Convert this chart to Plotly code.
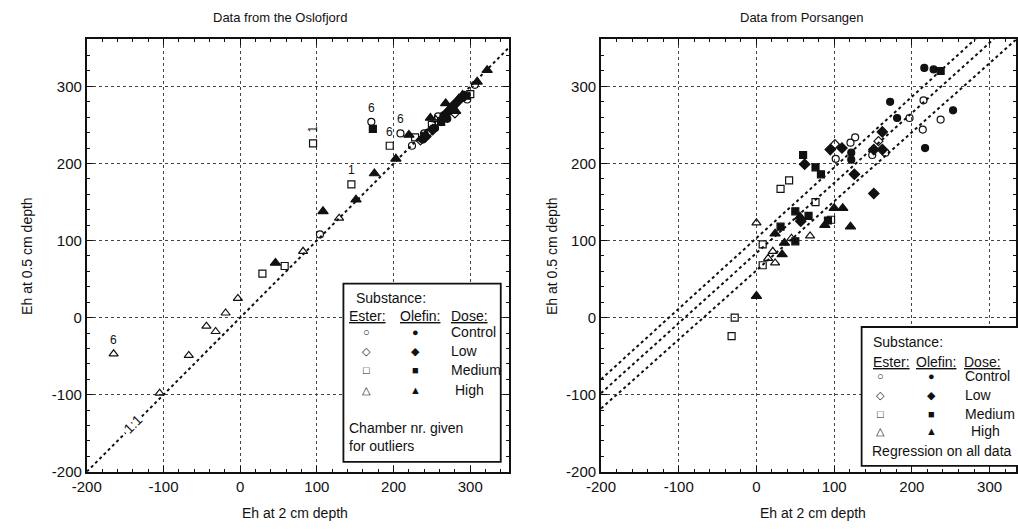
import plotly.graph_objects as go

W, H = 1018, 531

# ---------------- Data from the Oslofjord (Eh at 2 cm, Eh at 0.5 cm) ----------------
oslo_ester_control_x = [104, 171, 209, 224, 240, 245, 258, 296, 306]
oslo_ester_control_y = [108, 254, 239, 223, 239, 240, 261, 283, 302]
oslo_ester_low_x = [235, 262, 280]
oslo_ester_low_y = [230, 255, 265]
oslo_ester_medium_x = [29, 58, 95, 145, 195, 228, 250, 300]
oslo_ester_medium_y = [57, 67, 226, 173, 223, 234, 250, 290]
oslo_ester_high_x = [-165, -105, -67, -44, -32, -19, -3, 82, 129, 255]
oslo_ester_high_y = [-47, -98, -49, -11, -18, 6, 25, 86, 129, 257]
oslo_olefin_control_x = [238, 254, 265, 278, 290, 270]
oslo_olefin_control_y = [231, 246, 262, 275, 285, 258]
oslo_olefin_low_x = [251, 270, 283, 242]
oslo_olefin_low_y = [244, 266, 280, 235]
oslo_olefin_medium_x = [173, 240, 262, 275, 295]
oslo_olefin_medium_y = [245, 236, 254, 270, 288]
oslo_olefin_high_x = [46, 108, 151, 175, 203, 220, 248, 268, 274, 281, 285, 290, 309, 322]
oslo_olefin_high_y = [71, 138, 153, 187, 206, 237, 259, 278, 272, 268, 284, 289, 306, 321]

# outlier chamber numbers (text, x, y, rotation)
oslo_outlier_text = ["6", "1", "1", "6", "6", "6"]
oslo_outlier_x = [-165, 95, 145, 171, 195, 209]
oslo_outlier_y = [-47, 226, 173, 254, 223, 239]
oslo_outlier_rot = [0, -90, 0, 0, 0, 0]

one_to_one_x = [-200, 350]
one_to_one_y = [-200, 350]

# ---------------- Data from Porsangen ----------------
pors_ester_control_x = [215, 197, 237, 214, 166, 149, 127, 121, 102]
pors_ester_control_y = [282, 259, 257, 244, 214, 211, 234, 227, 206]
pors_ester_low_x = [157, 101]
pors_ester_low_y = [229, 225]
pors_ester_medium_x = [42, 31, 8, 8, 76, 96, -28, -32]
pors_ester_medium_y = [178, 167, 95, 68, 150, 127, 0, -24]
pors_ester_high_x = [0, 21, 15, 24, 45, 69]
pors_ester_high_y = [123, 86, 77, 71, 103, 106]
pors_olefin_control_x = [216, 228, 172, 253, 181, 217, 122, 122]
pors_olefin_control_y = [324, 322, 280, 269, 259, 220, 214, 205]
pors_olefin_low_x = [162, 151, 162, 126, 151, 95, 110, 62, 57]
pors_olefin_low_y = [241, 218, 218, 186, 161, 218, 220, 199, 125]
pors_olefin_medium_x = [237, 60, 76, 83, 31, 50, 50, 67, 92]
pors_olefin_medium_y = [320, 211, 195, 186, 118, 99, 138, 132, 126]
pors_olefin_high_x = [0, 24, 33, 36, 100, 111, 88, 121, 56]
pors_olefin_high_y = [28, 109, 82, 97, 142, 142, 120, 118, 131]

reg_x = [-200, 350]
reg_upper_y = [-80, 424]
reg_mid_y = [-98, 402]
reg_lower_y = [-118, 375]

ticks = [-200, -100, 0, 100, 200, 300]
tick_labels = ["-200", "-100", "0", "100", "200", "300"]

# ---------------- styles ----------------
INK = "#111111"
FONT = "Liberation Sans, Arial, sans-serif"
STYLE = {
    "ester_control": ("circle-open", 7),
    "ester_low": ("diamond-open", 7),
    "ester_medium": ("square-open", 7),
    "ester_high": ("triangle-up-open", 8),
    "olefin_control": ("circle", 7),
    "olefin_low": ("diamond", 8),
    "olefin_medium": ("square", 7),
    "olefin_high": ("triangle-up", 9),
}

oslo_sets = {
    "ester_control": (oslo_ester_control_x, oslo_ester_control_y),
    "ester_low": (oslo_ester_low_x, oslo_ester_low_y),
    "ester_medium": (oslo_ester_medium_x, oslo_ester_medium_y),
    "ester_high": (oslo_ester_high_x, oslo_ester_high_y),
    "olefin_control": (oslo_olefin_control_x, oslo_olefin_control_y),
    "olefin_low": (oslo_olefin_low_x, oslo_olefin_low_y),
    "olefin_medium": (oslo_olefin_medium_x, oslo_olefin_medium_y),
    "olefin_high": (oslo_olefin_high_x, oslo_olefin_high_y),
}
pors_sets = {
    "ester_control": (pors_ester_control_x, pors_ester_control_y),
    "ester_low": (pors_ester_low_x, pors_ester_low_y),
    "ester_medium": (pors_ester_medium_x, pors_ester_medium_y),
    "ester_high": (pors_ester_high_x, pors_ester_high_y),
    "olefin_control": (pors_olefin_control_x, pors_olefin_control_y),
    "olefin_low": (pors_olefin_low_x, pors_olefin_low_y),
    "olefin_medium": (pors_olefin_medium_x, pors_olefin_medium_y),
    "olefin_high": (pors_olefin_high_x, pors_olefin_high_y),
}

fig = go.Figure()

dotline = dict(color=INK, width=2, dash="dot")
fig.add_trace(go.Scatter(x=one_to_one_x, y=one_to_one_y, mode="lines", line=dotline,
                         xaxis="x", yaxis="y", showlegend=False, hoverinfo="skip"))
for ry in (reg_upper_y, reg_mid_y, reg_lower_y):
    fig.add_trace(go.Scatter(x=reg_x, y=ry, mode="lines", line=dotline,
                             xaxis="x2", yaxis="y2", showlegend=False, hoverinfo="skip"))


def add_sets(sets, xa, ya):
    for key, (xs, ys) in sets.items():
        sym, size = STYLE[key]
        fig.add_trace(go.Scatter(
            x=xs, y=ys, mode="markers", name=key, xaxis=xa, yaxis=ya, showlegend=False,
            marker=dict(symbol=sym, size=size, color=INK, line=dict(color=INK, width=1.2)),
        ))


add_sets(oslo_sets, "x", "y")
add_sets(pors_sets, "x2", "y2")


def px(x):
    return x / W


def py(y):
    return 1 - y / H


axis_common = dict(
    showline=True, linecolor=INK, linewidth=1.8, mirror="allticks",
    ticks="inside", ticklen=6, tickcolor=INK, tickwidth=1,
    tickvals=ticks, ticktext=tick_labels,
    tickfont=dict(family=FONT, size=15, color=INK),
    showgrid=True, gridcolor="#444444", gridwidth=1, griddash="dot",
    zeroline=False,
    minor=dict(dtick=20, ticklen=3, ticks="inside", tickcolor=INK, showgrid=False),
)

ydom = [py(479), py(40)]
fig.update_layout(
    width=W, height=H, margin=dict(l=0, r=0, t=0, b=0),
    paper_bgcolor="white", plot_bgcolor="white",
    xaxis=dict(domain=[px(73), px(502)], range=[-200, 350], anchor="y", **axis_common),
    yaxis=dict(domain=ydom, range=[-200, 361], anchor="x", **axis_common),
    xaxis2=dict(domain=[px(596), 1.0], range=[-200, 334], anchor="y2", **axis_common),
    yaxis2=dict(domain=ydom, range=[-200, 361], anchor="x2", **axis_common),
    font=dict(family=FONT, color=INK),
)

ann = []


def text(x, y, s, size=14, xanchor="center", angle=0, **kw):
    ann.append(dict(x=px(x), y=py(y), xref="paper", yref="paper", text=s, showarrow=False,
                    xanchor=xanchor, yanchor="middle", textangle=angle,
                    font=dict(family=FONT, size=size, color=INK), **kw))


# titles and axis titles
text(270, 18, "Data from the Oslofjord", 13)
text(800, 18, "Data from Porsangen", 13)
text(285, 521, "Eh at 2 cm depth", 14)
text(812, 521, "Eh at 2 cm depth", 14)
text(12, 260, "Eh at 0.5 cm depth", 14, angle=-90)
text(546, 260, "Eh at 0.5 cm depth", 14, angle=-90)

# outlier labels
for t, x, y, r in zip(oslo_outlier_text, oslo_outlier_x, oslo_outlier_y, oslo_outlier_rot):
    ann.append(dict(x=x, y=y, xref="x", yref="y", text=t, showarrow=False, yshift=14,
                    textangle=r, font=dict(family=FONT, size=12, color=INK)))

# 1:1 label
ann.append(dict(x=-140, y=-138, xref="x", yref="y", text="1:1", showarrow=False, textangle=-45,
                bgcolor="white", font=dict(family=FONT, size=14, color=INK)))

# legends
SYM_E = ["○", "◇", "□", "△"]
SYM_O = ["●", "◆", "■", "▲"]
DOSES = ["Control", "Low", "Medium", "High"]


def legend(x0, y0, x1, y1, sub_xy, hdr_y, hdr_x, sym_x, rows_y, dose_x, high_x, extra):
    fig.add_shape(type="rect", xref="paper", yref="paper", x0=px(x0), x1=px(x1), y0=py(y1), y1=py(y0),
                  line=dict(color=INK, width=1.8), fillcolor="white", layer="above")
    text(sub_xy[0], sub_xy[1], "Substance:", 14, xanchor="left")
    for hx, h in zip(hdr_x, ["Ester:", "Olefin:", "Dose:"]):
        text(hx, hdr_y, "<u>" + h + "</u>", 14, xanchor="left")
    for i, ry in enumerate(rows_y):
        text(sym_x[0], ry, SYM_E[i], 11)
        text(sym_x[1], ry, SYM_O[i], 11)
        text(high_x if i == 3 else dose_x, ry, DOSES[i], 14, xanchor="left")
    for ex, ey, s in extra:
        text(ex, ey, s, 14, xanchor="left")


legend(334, 288, 494, 469, (345, 303), 321, (338, 389, 441), (357, 407),
       [337, 356, 376, 396], 441, 445,
       [(338, 435, "Chamber nr. given"), (338, 453, "for outliers")])
legend(861, 332, 1030, 473, (871, 347), 368, (871, 914, 963), (880, 932),
       [382, 401, 420, 438], 964, 970,
       [(870, 458, "Regression on all data")])

fig.update_layout(annotations=ann)
fig.write_html("out.html")
